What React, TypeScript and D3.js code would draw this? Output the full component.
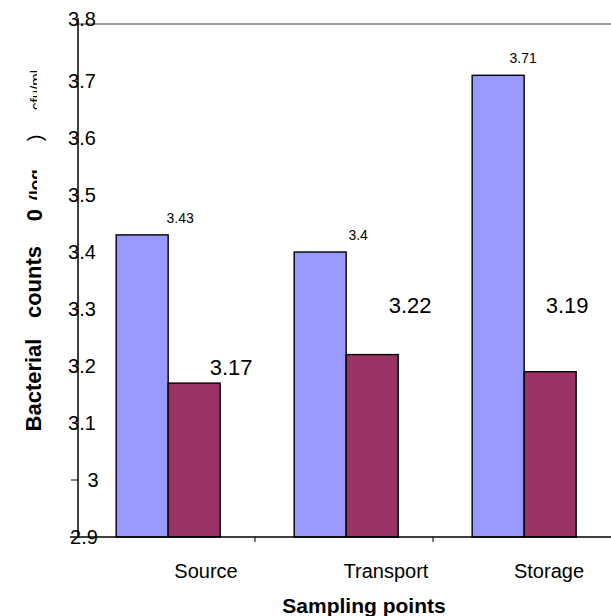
import React from "react";
import * as d3 from "d3";

const categories = ["Source", "Transport", "Storage"];
const seriesA = [3.43, 3.4, 3.71];
const seriesB = [3.17, 3.22, 3.19];
const yTicks = [2.9, 3, 3.1, 3.2, 3.3, 3.4, 3.5, 3.6, 3.7, 3.8];
const xTitle = "Sampling points";

// label placement offsets (px) relative to their bar's top-right corner
const labelAOffset = [[12, -17], [12, -17], [-1, -17]];
const labelBOffset = [[11, -16], [12, -49], [-9, -66]];

const W = 611, H = 616;
const FONT = "'Liberation Sans', Arial, Helvetica, sans-serif";

export default function App() {
  const x = d3.scaleBand<string>().domain(categories).range([77, 611]).padding(0);
  const bw = x.bandwidth();
  const inner = d3.scaleBand<string>().domain(["a", "b"]).range([0.22 * bw, 0.22 * bw + 104]).padding(0);
  const y = d3.scaleLinear().domain([2.9, 3.8]).range([537, 24]);
  const barW = inner.bandwidth();

  return (
    <svg width={W} height={H} style={{ position: "absolute", left: 0, top: 0, background: "#fff" }} fontFamily={FONT}>
      <defs>
        <clipPath id="ytclip">
          <rect x={0} y={0} width={37} height={210} />
        </clipPath>
      </defs>
      {/* top gray line */}
      <line x1={78} x2={611} y1={y(3.8)} y2={y(3.8)} stroke="#808080" strokeWidth={1.6} />
      {/* bars */}
      {categories.map((c, i) => {
        const x0 = (x(c) as number) + (inner("a") as number);
        const x1 = (x(c) as number) + (inner("b") as number);
        return (
          <g key={c}>
            <rect x={x0} y={y(seriesA[i])} width={barW} height={y(2.9) - y(seriesA[i])} fill="#9999FF" stroke="#000" strokeWidth={1.4} />
            <rect x={x1} y={y(seriesB[i])} width={barW} height={y(2.9) - y(seriesB[i])} fill="#993366" stroke="#000" strokeWidth={1.4} />
            <text x={x0 + barW + labelAOffset[i][0]} y={y(seriesA[i]) + labelAOffset[i][1]} fontSize={14} textAnchor="middle" dominantBaseline="central" fill="#000">{seriesA[i]}</text>
            <text x={x1 + barW + labelBOffset[i][0]} y={y(seriesB[i]) + labelBOffset[i][1]} fontSize={22} textAnchor="middle" dominantBaseline="central" fill="#000">{seriesB[i]}</text>
          </g>
        );
      })}
      {/* y axis */}
      <line x1={78} x2={78} y1={18} y2={538} stroke="#000" strokeWidth={1.5} />
      {yTicks.map((t) => (
        <g key={t}>
          {t === 3 && <line x1={71} x2={78} y1={y(t)} y2={y(t)} stroke="#000" strokeWidth={1} />}
          <text x={t === 3 ? 93 : t === 2.9 ? 84 : 82} y={t === 3.8 ? y(t) - 5 : y(t)} fontSize={20} textAnchor="middle" dominantBaseline="central" fill="#000">
            {String(t)}
          </text>
        </g>
      ))}
      {/* x axis */}
      <line x1={70} x2={611} y1={537} y2={537} stroke="#000" strokeWidth={1.5} />
      {categories.slice(1).map((c) => (
        <line key={c} x1={x(c) as number} x2={x(c) as number} y1={537} y2={542} stroke="#000" strokeWidth={1} />
      ))}
      {categories.map((c, i) => (
        <text key={c} x={(x(c) as number) + bw / 2 + [40, 42, 27][i]} y={571} fontSize={20} textAnchor="middle" dominantBaseline="central" fill="#000">
          {c}
        </text>
      ))}
      <text x={364} y={605} fontSize={21} fontWeight="bold" textAnchor="middle" dominantBaseline="central" fill="#000">
        {xTitle}
      </text>
      {/* y axis title (partly clipped, as in the source) */}
      <text transform="translate(33,385) rotate(-90)" fontSize={22} fontWeight="bold" textAnchor="middle" dominantBaseline="central" fill="#000">Bacterial</text>
      <text transform="translate(33,282) rotate(-90)" fontSize={22} fontWeight="bold" textAnchor="middle" dominantBaseline="central" fill="#000">counts</text>
      <text transform="translate(34,215) rotate(-90)" fontSize={22} fontWeight="bold" textAnchor="middle" dominantBaseline="central" fill="#000">0</text>
      <text transform="translate(35,138) rotate(-90)" fontSize={20} textAnchor="middle" dominantBaseline="central" fill="#000">)</text>
      <g clipPath="url(#ytclip)">
        <text transform="translate(35,185) rotate(-90)" fontSize={17} fontWeight="bold" textAnchor="middle" dominantBaseline="central" fill="#000">(log</text>
        <text transform="translate(35,90) rotate(-90)" fontSize={15} textAnchor="middle" dominantBaseline="central" fill="#000">cfu/ml</text>
      </g>
    </svg>
  );
}
